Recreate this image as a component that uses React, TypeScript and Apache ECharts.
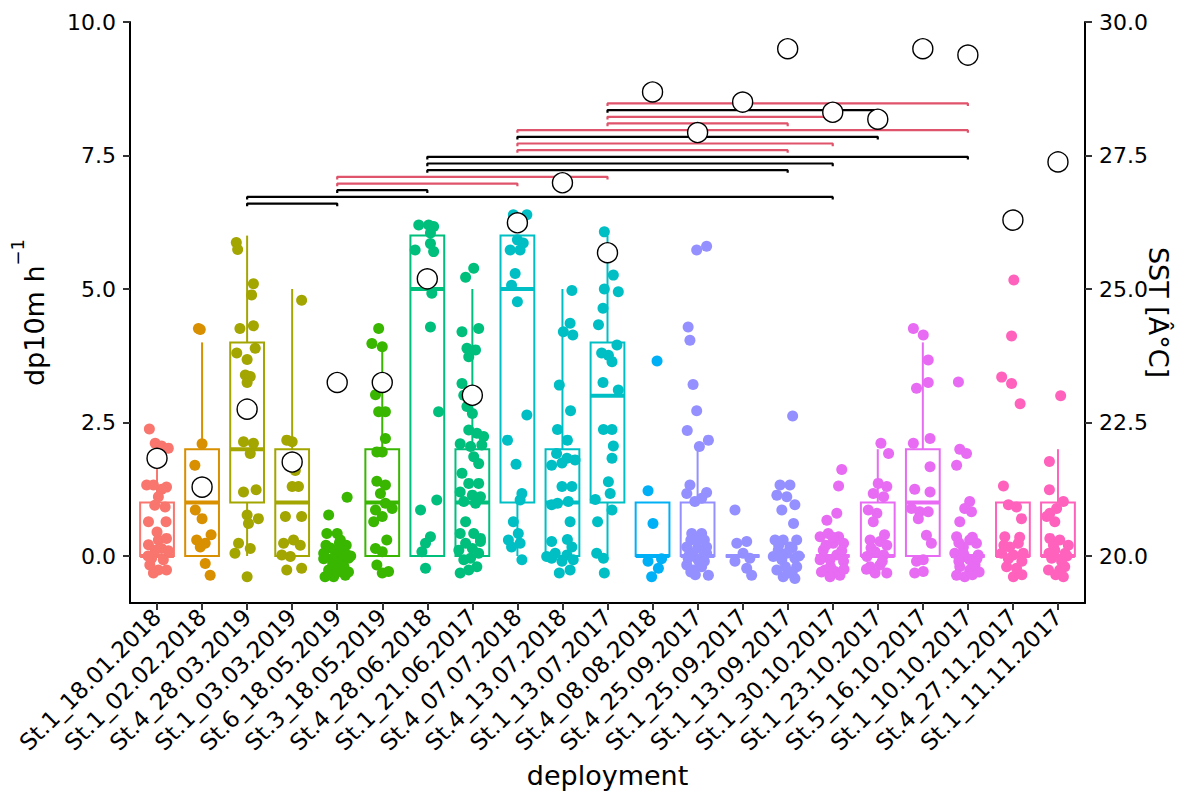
import React, { useEffect, useRef } from "react";
import * as echarts from "echarts";

// ---------- data ----------
const categories = [
  "St.1_18.01.2018", "St.1_02.02.2018", "St.4_28.03.2019", "St.1_03.03.2019",
  "St.6_18.05.2019", "St.3_18.05.2019", "St.4_28.06.2018", "St.1_21.06.2017",
  "St.4_07.07.2018", "St.4_13.07.2018", "St.1_13.07.2017", "St.4_08.08.2018",
  "St.4_25.09.2017", "St.1_25.09.2017", "St.1_13.09.2017", "St.1_30.10.2017",
  "St.1_23.10.2017", "St.5_16.10.2017", "St.1_10.10.2017", "St.4_27.11.2017",
  "St.1_11.11.2017",
];

const boxLower = [0, 0, 0, 0, 0, 0, 0, 0, 0, 0, 0, 0, 0, 0, 0, 0, 0, 0, 0, 0, 0];
const boxQ1 = [0, 0, 1, 0, 0, 0, 0, 0, 1, 0, 1, 0, 0, 0, 0, 0, 0, 0, 0, 0, 0];
const boxMedian = [0, 1, 2, 1, 0, 1, 5, 1, 5, 1, 3, 0, 0, 0, 0, 0, 0, 1, 0, 0, 0];
const boxQ3 = [1, 2, 4, 2, 0, 2, 6, 2, 6, 2, 4, 1, 1, 0, 0, 0, 1, 2, 0, 1, 1];
const boxUpper = [2, 4, 6, 5, 0, 4, 6, 5, 6, 5, 6, 1, 2, 0, 0, 0, 2, 4, 0, 1, 2];

const sstValues = [
  21.83, 21.29, 22.75, 21.76, 23.25, 23.25, 25.19, 23.01, 26.24, 26.99, 25.68,
  28.69, 27.93, 28.5, 29.5, 28.31, 28.18, 29.5, 29.38, 26.29, 27.38,
];

const yTicks = [0, 2.5, 5, 7.5, 10];
const sstTicks = [20, 22.5, 25, 27.5, 30];

const bracketFrom = [2, 2, 4, 4, 4, 6, 6, 6, 8, 8, 8, 8, 10, 10, 10, 10];
const bracketTo = [4, 15, 6, 8, 10, 14, 15, 18, 14, 15, 16, 18, 14, 15, 16, 18];
const bracketHeight = [6.6, 6.725, 6.85, 6.975, 7.1, 7.225, 7.35, 7.475, 7.6, 7.725, 7.85, 7.975, 8.1, 8.225, 8.35, 8.475];
const bracketGroup = ["k", "k", "k", "r", "r", "k", "k", "k", "r", "r", "k", "r", "r", "r", "k", "r"];

// jittered observations per deployment: [horizontal jitter (category units), value]
const p00 = [[-0.17, 2.38], [-0.04, 2.11], [0.1, 2.06], [0.25, 2.02], [-0.23, 1.33], [-0.08, 1.33], [0.1, 1.25], [0.21, 1.29], [0.03, 1.11], [-0.05, 0.95], [0.18, 0.92], [-0.19, 0.64], [0.2, 0.64], [-0.19, 0.21], [0.03, 0.3], [0.21, 0.33], [0.1, 0.14], [-0.04, 0.11], [-0.12, -0.04], [0.14, -0.07], [-0.16, -0.17], [0.03, -0.26], [0.21, -0.26], [-0.08, -0.32], [0.0, 0.45], [-0.2, 0.0], [0.25, 0.1]];
const p01 = [[-0.08, 4.26], [-0.04, 4.24], [0.0, 2.1], [-0.16, 1.7], [0.1, 1.24], [-0.15, 0.86], [0.0, 0.7], [-0.12, 0.3], [0.07, 0.24], [-0.04, 0.17], [0.2, 0.4], [0.07, -0.14], [0.18, -0.36]];
const p02 = [[-0.24, 5.87], [-0.21, 5.74], [0.14, 5.1], [0.1, 4.89], [-0.16, 4.26], [0.14, 4.31], [-0.23, 3.8], [0.0, 3.68], [0.18, 3.89], [-0.04, 3.39], [0.07, 3.36], [0.0, 3.25], [-0.08, 2.14], [0.14, 2.11], [0.07, 1.92], [-0.08, 1.2], [0.2, 1.24], [0.0, 0.77], [0.25, 0.7], [0.03, 0.61], [-0.19, 0.24], [0.07, 0.14], [-0.27, 0.05], [0.0, -0.39]];
const p03 = [[0.21, 4.79], [-0.12, 2.17], [0.0, 2.14], [-0.04, 1.67], [0.07, 1.6], [0.0, 1.3], [0.14, 1.3], [-0.15, 0.74], [0.21, 0.74], [-0.19, 0.24], [0.03, 0.3], [0.18, 0.2], [-0.04, -0.01], [-0.23, 0.02], [0.21, -0.23], [-0.12, -0.26]];
const p04 = [[0.22, 1.1], [-0.19, 0.77], [-0.23, 0.42], [0.0, 0.42], [0.07, 0.3], [-0.15, 0.15], [-0.04, 0.08], [0.14, 0.11], [0.22, 0.02], [-0.3, -0.05], [-0.08, -0.07], [0.1, -0.1], [0.25, -0.04], [-0.19, -0.26], [0.07, -0.23], [-0.08, -0.39], [0.18, -0.36], [-0.27, -0.39], [0.3, 0.0], [-0.25, 0.2], [0.05, 0.25], [0.2, 0.2], [-0.1, -0.15], [0.15, -0.2], [-0.3, 0.05], [0.0, -0.3], [0.25, -0.3]];
const p05 = [[-0.08, 4.26], [-0.23, 3.98], [0.0, 3.92], [-0.15, 3.02], [0.0, 3.24], [-0.08, 2.7], [0.07, 2.7], [0.07, 2.2], [-0.12, 1.95], [0.0, 1.95], [-0.12, 1.4], [0.07, 1.33], [-0.04, 1.17], [-0.15, 0.86], [0.07, 0.99], [0.0, 0.74], [0.22, 0.89], [-0.19, 0.64], [0.1, 0.3], [-0.15, 0.14], [0.0, 0.08], [-0.12, -0.17], [0.14, -0.29], [0.0, -0.32]];
const p06 = [[-0.19, 6.2], [0.03, 6.2], [0.14, 6.17], [0.07, 6.05], [-0.27, 5.73], [0.14, 5.7], [0.07, 5.85], [0.1, 4.92], [-0.04, 5.23], [0.07, 4.29], [0.25, 2.7], [-0.15, 0.86], [0.21, 1.05], [-0.12, 0.08], [0.07, 0.36], [-0.04, 0.24], [-0.04, -0.23]];
const p07 = [[-0.15, 5.22], [0.03, 5.39], [-0.23, 4.2], [0.14, 4.26], [-0.12, 3.89], [0.07, 3.86], [-0.08, 3.73], [-0.23, 3.23], [-0.19, 3.01], [-0.12, 2.8], [0.0, 2.67], [-0.08, 2.36], [0.1, 2.3], [0.25, 2.24], [-0.27, 2.1], [-0.04, 2.05], [0.21, 2.08], [0.03, 1.86], [0.14, 1.73], [-0.23, 1.55], [-0.08, 1.36], [0.14, 1.36], [-0.27, 1.2], [0.0, 1.14], [0.18, 1.11], [-0.19, 1.02], [0.07, 0.99], [-0.15, 0.64], [0.03, 0.42], [-0.27, 0.42], [0.18, 0.33], [-0.15, 0.24], [0.0, 0.14], [0.18, 0.27], [-0.3, 0.11], [-0.04, -0.04], [-0.19, -0.07], [0.14, 0.05], [-0.27, -0.32], [-0.08, -0.26], [0.1, -0.2]];
const p08 = [[-0.09, 6.39], [0.21, 6.39], [0.0, 5.92], [-0.16, 5.73], [0.06, 5.73], [0.13, 5.86], [-0.05, 5.29], [-0.13, 5.07], [0.0, 4.76], [0.21, 2.64], [-0.22, 2.17], [-0.03, 1.72], [0.1, 1.17], [0.06, 1.05], [-0.09, 0.64], [-0.2, 0.3], [0.02, 0.42], [0.06, 0.24], [-0.13, 0.17], [0.1, -0.07]];
const p09 = [[0.21, 4.97], [0.17, 4.36], [0.02, 4.2], [0.23, 4.14], [-0.07, 3.2], [0.18, 2.72], [-0.11, 2.37], [0.11, 2.17], [-0.13, 1.92], [0.1, 1.83], [0.28, 1.8], [-0.24, 1.7], [-0.01, 1.74], [-0.01, 1.3], [0.21, 1.3], [-0.24, 0.96], [-0.11, 0.99], [0.13, 1.02], [0.17, 0.64], [-0.24, 0.27], [0.11, 0.31], [0.21, 0.17], [-0.16, 0.05], [0.1, 0.02], [-0.35, -0.01], [-0.01, -0.1], [-0.24, -0.04], [0.24, -0.07], [-0.07, -0.32], [0.17, -0.26]];
const p10 = [[-0.07, 6.07], [0.13, 5.26], [-0.07, 5.0], [0.24, 4.95], [-0.1, 4.64], [-0.2, 4.33], [0.21, 3.95], [-0.13, 3.8], [0.02, 3.76], [0.1, 3.64], [-0.1, 3.25], [0.24, 3.11], [-0.09, 2.37], [0.1, 2.37], [0.13, 2.06], [0.1, 1.83], [0.02, 1.39], [0.06, 1.17], [-0.27, 1.06], [0.1, 0.86], [-0.22, 0.64], [-0.24, 0.05], [-0.09, -0.04], [-0.07, -0.32]];
const p11 = [[0.1, 3.65], [-0.1, 1.22], [0.01, 0.61], [-0.1, -0.1], [0.13, -0.23], [-0.02, -0.39], [0.2, -0.05]];
const p12 = [[-0.02, 5.73], [0.2, 5.8], [-0.21, 4.29], [-0.17, 4.04], [-0.1, 3.21], [-0.02, 2.72], [-0.23, 2.35], [0.24, 2.17], [0.04, 2.05], [-0.17, 1.33], [0.2, 1.19], [0.09, 1.08], [-0.24, 1.17], [-0.06, 1.02], [-0.13, 0.42], [0.09, 0.42], [-0.02, 0.3], [-0.24, 0.17], [0.2, 0.17], [-0.1, 0.05], [0.13, -0.01], [-0.21, -0.04], [0.01, -0.07], [0.24, -0.36], [-0.1, -0.26], [-0.24, -0.17], [0.09, -0.2], [-0.15, 0.3], [0.15, 0.3], [-0.2, 0.0], [0.2, 0.05], [0.0, 0.15], [-0.05, -0.35], [0.15, -0.1], [-0.15, -0.3], [0.05, -0.15]];
const p13 = [[-0.17, 0.86], [0.09, 0.27], [-0.13, 0.24], [0.01, 0.05], [0.16, -0.04], [-0.17, -0.1], [0.09, -0.23], [0.2, -0.36]];
const p14 = [[0.11, 2.62], [-0.17, 1.33], [0.05, 1.33], [-0.24, 1.14], [-0.02, 1.11], [0.16, 0.96], [-0.13, 0.86], [0.13, 0.61], [-0.28, 0.3], [-0.1, 0.3], [0.2, 0.3], [0.05, 0.17], [-0.21, 0.11], [-0.02, 0.05], [0.16, -0.04], [-0.13, -0.07], [-0.32, -0.01], [-0.24, -0.26], [0.01, -0.32], [0.2, -0.2], [-0.1, -0.39], [0.16, -0.42], [0.1, 0.15], [-0.2, 0.2], [0.25, 0.0], [-0.05, -0.2], [0.1, -0.3]];
const p15 = [[0.2, 1.62], [0.13, 1.31], [0.09, 0.8], [-0.13, 0.67], [-0.28, 0.36], [-0.1, 0.42], [0.13, 0.36], [0.01, 0.24], [0.24, 0.24], [-0.21, 0.11], [0.09, 0.02], [-0.06, -0.07], [-0.28, -0.07], [0.24, -0.1], [-0.17, -0.26], [0.05, -0.29], [-0.06, -0.39], [0.16, -0.36], [-0.15, 0.2], [0.2, 0.1], [-0.05, -0.2], [0.25, -0.25], [-0.25, -0.3], [0.0, 0.35]];
const p16 = [[0.07, 2.11], [0.24, 1.92], [0.01, 1.36], [0.2, 1.3], [-0.1, 1.17], [0.13, 1.11], [-0.21, 0.86], [-0.02, 0.8], [-0.1, 0.64], [-0.17, 0.3], [0.05, 0.27], [0.2, 0.2], [-0.06, 0.08], [0.13, 0.02], [-0.24, -0.01], [-0.17, -0.2], [0.05, -0.17], [0.2, -0.32], [-0.06, -0.32], [0.15, 0.4], [-0.15, 0.15], [0.1, -0.1], [-0.25, -0.25]];
const p17 = [[-0.21, 4.26], [0.01, 4.14], [0.12, 3.67], [-0.14, 3.14], [0.12, 3.25], [-0.21, 2.11], [0.16, 2.2], [0.16, 1.67], [-0.18, 1.25], [0.16, 1.2], [-0.25, 0.89], [-0.07, 0.83], [0.12, 0.83], [-0.1, 0.7], [0.08, 0.39], [0.19, 0.24], [-0.14, -0.1], [0.01, -0.07], [-0.18, -0.32], [0.01, -0.29]];
const p18 = [[-0.21, 3.26], [-0.18, 2.0], [-0.03, 1.92], [-0.25, 1.7], [0.04, 1.02], [-0.07, 0.89], [-0.18, 0.64], [0.08, 0.83], [-0.25, 0.36], [0.04, 0.3], [0.19, 0.24], [-0.1, 0.17], [-0.29, 0.05], [-0.07, -0.01], [0.23, 0.02], [0.04, -0.07], [-0.18, -0.2], [0.04, -0.26], [0.16, -0.17], [-0.07, -0.39], [-0.25, -0.36], [0.1, 0.35], [-0.2, 0.25], [0.2, -0.05], [-0.1, 0.05], [0.1, -0.35], [-0.2, -0.1], [0.25, -0.3]];
const p19 = [[0.02, 5.17], [-0.03, 4.12], [-0.25, 3.35], [-0.03, 3.23], [0.16, 2.85], [-0.21, 1.31], [-0.1, 0.96], [0.08, 0.92], [0.19, 0.7], [-0.18, 0.36], [0.12, 0.24], [-0.07, 0.17], [-0.25, 0.05], [0.01, 0.02], [0.23, 0.05], [-0.14, -0.2], [0.08, -0.23], [0.01, -0.39], [0.15, 0.35], [-0.2, 0.2], [0.2, -0.1], [-0.1, -0.05], [0.2, -0.35]];
const p20 = [[0.06, 3.0], [-0.19, 1.77], [-0.19, 1.24], [0.12, 1.02], [-0.03, 0.89], [-0.18, 0.8], [-0.25, 0.74], [-0.07, 0.64], [-0.18, 0.33], [0.04, 0.3], [0.23, 0.2], [-0.07, 0.11], [0.16, 0.05], [-0.14, -0.04], [0.08, -0.1], [-0.21, -0.26], [0.04, -0.26], [0.12, -0.39], [-0.1, 0.2], [0.2, 0.0], [-0.2, 0.05], [0.15, -0.2], [-0.05, -0.35]];

const jitterByDeployment = [p00, p01, p02, p03, p04, p05, p06, p07, p08, p09, p10, p11, p12, p13, p14, p15, p16, p17, p18, p19, p20];

// ---------- styling helpers ----------
const FONT = "DejaVu Sans";
const groupColor: Record<string, string> = { k: "#000000", r: "#DF536B" };

// ggplot2-like hue palette (HCL, c = 100, l = 65)
function hcl(h: number, c: number, l: number): string {
  const hr = (h * Math.PI) / 180;
  const U = c * Math.cos(hr);
  const V = c * Math.sin(hr);
  const Xn = 95.047, Yn = 100, Zn = 108.883;
  const den = Xn + 15 * Yn + 3 * Zn;
  const un = (4 * Xn) / den, vn = (9 * Yn) / den;
  const Y = l > 8 ? Yn * Math.pow((l + 16) / 116, 3) : (Yn * l) / 903.3;
  const u = U / (13 * l) + un;
  const v = V / (13 * l) + vn;
  const X = (9 * Y * u) / (4 * v);
  const Z = (Y * (12 - 3 * u - 20 * v)) / (4 * v);
  const x = X / 100, y = Y / 100, z = Z / 100;
  const lin = [
    3.2404542 * x - 1.5371385 * y - 0.4985314 * z,
    -0.969266 * x + 1.8760108 * y + 0.041556 * z,
    0.0556434 * x - 0.2040259 * y + 1.0572252 * z,
  ];
  return (
    "#" +
    lin
      .map((cc) => {
        let g = cc <= 0.0031308 ? 12.92 * cc : 1.055 * Math.pow(cc, 1 / 2.4) - 0.055;
        g = Math.min(1, Math.max(0, g));
        return Math.round(g * 255).toString(16).padStart(2, "0");
      })
      .join("")
  );
}

// colour groups: month of deployment (taken from the label)
const monthOf = categories.map((c) => c.split("_")[1].split(".")[1]);
const monthLevels = Array.from(new Set(monthOf)).sort();
const monthPalette = monthLevels.map((_, i) => hcl(15 + (i * 360) / monthLevels.length, 100, 65));
const palette = monthOf.map((m) => monthPalette[monthLevels.indexOf(m)]);

export default function App() {
  const ref = useRef<HTMLDivElement>(null);

  useEffect(() => {
    if (!ref.current) return;
    const chart = echarts.init(ref.current, undefined, { renderer: "svg" });
    const catIdx = categories.map((_, i) => i);

    const boxData = categories.map((_, i) => [i, boxLower[i], boxQ1[i], boxMedian[i], boxQ3[i], boxUpper[i]]);

    const pointData: any[] = [];
    jitterByDeployment.forEach((pts, i) => {
      pts.forEach(([dx, v]) => {
        pointData.push({ value: [i + dx, v], itemStyle: { color: palette[i], opacity: 1 } });
      });
    });

    const tip = 0.05;
    const bracketSeries = bracketFrom.map((from, k) => ({
      type: "line",
      xAxisIndex: 0,
      yAxisIndex: 0,
      z: 4,
      silent: true,
      symbol: "none",
      lineStyle: { color: groupColor[bracketGroup[k]], width: 2.2, opacity: 1 },
      data: [
        [from, bracketHeight[k] - tip],
        [from, bracketHeight[k]],
        [bracketTo[k], bracketHeight[k]],
        [bracketTo[k], bracketHeight[k] - tip],
      ],
    }));

    const axisLineStyle = { color: "#000", width: 2 };
    const tickStyle = { color: "#333", width: 2 };
    const tickFont = 22;
    const titleFont = 27;

    chart.setOption({
      animation: false,
      backgroundColor: "#fff",
      grid: { left: 130, right: 115, top: 22, bottom: 206, containLabel: false },
      xAxis: {
        type: "value",
        min: -0.6,
        max: 20.6,
        axisLine: { show: true, onZero: false, lineStyle: axisLineStyle },
        axisTick: { show: true, customValues: catIdx, length: 7, lineStyle: tickStyle },
        axisLabel: {
          customValues: catIdx,
          formatter: (v: number) => categories[Math.round(v)],
          rotate: 45,
          fontSize: 23,
          fontFamily: FONT,
          color: "#000",
          margin: 10,
        },
        splitLine: { show: false },
        name: "deployment",
        nameLocation: "middle",
        nameGap: 153,
        nameTextStyle: { fontSize: titleFont, fontFamily: FONT, color: "#000" },
      },
      yAxis: [
        {
          type: "value",
          position: "left",
          min: -0.88,
          max: 10,
          axisLine: { show: true, onZero: false, lineStyle: axisLineStyle },
          axisTick: { show: true, customValues: yTicks, length: 7, lineStyle: tickStyle },
          axisLabel: {
            customValues: yTicks,
            formatter: (v: number) => v.toFixed(1),
            fontSize: tickFont,
            fontFamily: FONT,
            color: "#000",
            margin: 14,
          },
          splitLine: { show: false },
          name: "{base|dp10m h}{sup|−1}",
          nameLocation: "middle",
          nameRotate: 90,
          nameGap: 82,
          nameTextStyle: {
            fontFamily: FONT,
            color: "#000",
            rich: {
              base: { fontSize: titleFont, fontFamily: FONT, color: "#000", lineHeight: 40, verticalAlign: "bottom" },
              sup: { fontSize: 18, fontFamily: FONT, color: "#000", lineHeight: 18, verticalAlign: "top" },
            },
          },
        },
        {
          type: "value",
          position: "right",
          min: 19.12,
          max: 30,
          axisLine: { show: true, onZero: false, lineStyle: axisLineStyle },
          axisTick: { show: true, customValues: sstTicks, length: 7, lineStyle: tickStyle },
          axisLabel: {
            customValues: sstTicks,
            formatter: (v: number) => v.toFixed(1),
            fontSize: tickFont,
            fontFamily: FONT,
            color: "#000",
            margin: 14,
          },
          splitLine: { show: false },
          name: "SST [Â°C]",
          nameLocation: "middle",
          nameRotate: -90,
          nameGap: 60,
          nameMoveOverlap: false,
          nameTextStyle: { fontSize: titleFont, fontFamily: FONT, color: "#000" },
        },
      ],
      series: [
        {
          type: "custom",
          xAxisIndex: 0,
          yAxisIndex: 0,
          z: 2,
          silent: true,
          encode: { x: 0, y: [1, 2, 3, 4, 5] },
          data: boxData,
          renderItem: (params: any, api: any) => {
            const x = api.value(0);
            const color = palette[params.dataIndex];
            const pLo = api.coord([x, api.value(1)]);
            const pQ1 = api.coord([x, api.value(2)]);
            const pMed = api.coord([x, api.value(3)]);
            const pQ3 = api.coord([x, api.value(4)]);
            const pHi = api.coord([x, api.value(5)]);
            const half = api.size([0.75, 0])[0] / 2;
            const cx = pMed[0];
            return {
              type: "group",
              children: [
                { type: "line", shape: { x1: cx, y1: pHi[1], x2: cx, y2: pQ3[1] }, style: { stroke: color, lineWidth: 2 } },
                { type: "line", shape: { x1: cx, y1: pQ1[1], x2: cx, y2: pLo[1] }, style: { stroke: color, lineWidth: 2 } },
                {
                  type: "rect",
                  shape: { x: cx - half, y: pQ3[1], width: half * 2, height: pQ1[1] - pQ3[1] },
                  style: { fill: "rgba(255,255,255,0)", stroke: color, lineWidth: 2 },
                },
                { type: "line", shape: { x1: cx - half, y1: pMed[1], x2: cx + half, y2: pMed[1] }, style: { stroke: color, lineWidth: 4 } },
              ],
            };
          },
        },
        {
          type: "scatter",
          xAxisIndex: 0,
          yAxisIndex: 0,
          z: 3,
          silent: true,
          symbol: "circle",
          symbolSize: 11,
          itemStyle: { opacity: 1 },
          data: pointData,
        },
        ...bracketSeries,
        {
          type: "scatter",
          xAxisIndex: 0,
          yAxisIndex: 1,
          z: 5,
          silent: true,
          symbol: "circle",
          symbolSize: 20,
          itemStyle: { color: "#ffffff", borderColor: "#000000", borderWidth: 1.4, opacity: 1 },
          data: sstValues.map((v, i) => [i, v]),
        },
      ],
    });

    return () => {
      chart.dispose();
    };
  }, []);

  return (
    <div
      ref={ref}
      style={{ position: "absolute", left: 0, top: 0, width: 1200, height: 809, background: "#fff" }}
    />
  );
}
